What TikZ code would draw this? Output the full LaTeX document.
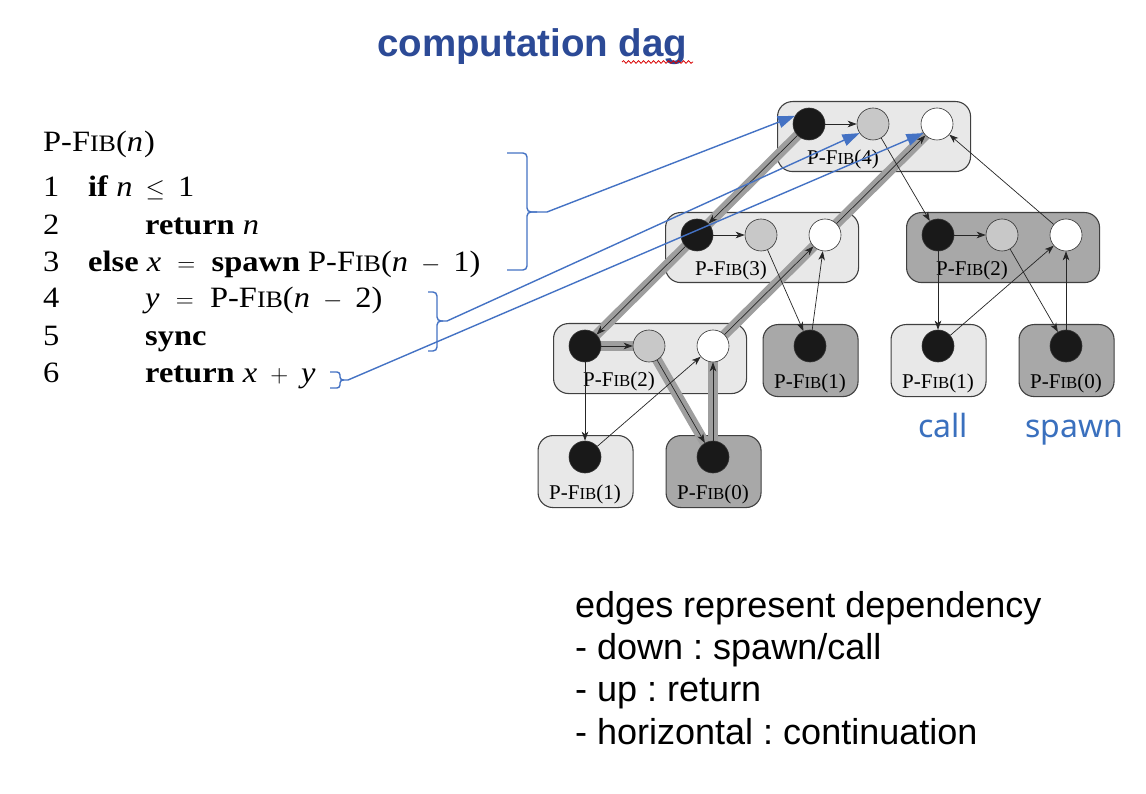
\documentclass[tikz,border=0pt]{standalone}
\usepackage{fontspec}
\setmainfont{Liberation Serif}
\newfontfamily\codefont[FakeStretch=1.1]{Liberation Serif}
\newfontfamily\arialfont{Liberation Sans}
\newfontfamily\notofont{Noto Sans}
\usetikzlibrary{arrows.meta,decorations.pathmorphing}
\frenchspacing

\pgfdeclarelayer{boxes}
\pgfdeclarelayer{bands}
\pgfsetlayers{boxes,bands,main}

\definecolor{lightbox}{RGB}{232,232,232}
\definecolor{darkbox}{RGB}{168,168,168}
\definecolor{midcirc}{RGB}{200,200,200}
\definecolor{band}{RGB}{158,158,158}
\definecolor{bluelink}{RGB}{68,114,196}
\definecolor{titleblue}{RGB}{44,74,150}
\definecolor{noteblue}{RGB}{58,112,190}

% procedure name in small capitals
\newcommand\pfib{P-F\scalebox{0.8}{IB}}

\tikzset{
  frame/.style={draw=black!75, line width=1.1pt, rounded corners=15pt,
    anchor=north west, inner sep=0pt},
  wideframe/.style={frame, minimum width=193pt, minimum height=70pt},
  narrowframe/.style={frame, minimum width=95pt, minimum height=72pt},
  lightfill/.style={fill=lightbox},
  darkfill/.style={fill=darkbox},
  strand/.style={circle, draw=black!80, line width=0.6pt, minimum size=32pt, inner sep=0pt},
  initial/.style={strand, fill=black!90},
  cont/.style={strand, fill=midcirc},
  final/.style={strand, fill=white},
  fiblabel/.style={font=\fontsize{21}{21}\selectfont, inner sep=0pt},
  dep/.style={-{Stealth[length=9pt,width=6.5pt,inset=2.5pt]}, line width=0.7pt, draw=black!85},
  crit/.style={line width=10pt, draw=band},
  code/.style={font=\codefont\fontsize{29.5}{29.5}\selectfont, anchor=base west, inner sep=0pt},
  notes/.style={font=\arialfont\fontsize{36}{36}\selectfont, anchor=base west, inner sep=0pt},
  tag/.style={font=\notofont\fontsize{32}{32}\selectfont, text=noteblue, anchor=base west, inner sep=0pt},
  brace/.style={draw=bluelink, line width=1.4pt, rounded corners=4pt},
  link/.style={draw=bluelink, line width=1.4pt, -{Triangle[length=17pt,width=12pt]}},
}

\begin{document}
\begin{tikzpicture}[x=1pt, y=-1pt]
\useasboundingbox (0,0) rectangle (1146,794);
\begin{pgfonlayer}{boxes}
  \fill[white] (0,0) rectangle (1146,794);
\end{pgfonlayer}

% ---------- title ----------
\node[font=\arialfont\bfseries\fontsize{38.5}{38.5}\selectfont, text=titleblue,
      anchor=base west, inner sep=0pt] (title) at (377,57) {computation dag};
\draw[red!85!black, line width=0.8pt, decorate,
      decoration={snake, amplitude=1.3pt, segment length=5pt}] (622,62) -- (693,62);

% ---------- pseudocode ----------
\node[code] (head) at (43,152) {\pfib(\textit{n}\kern1pt)};
\node[code] (n1) at (43,197) {1};
\node[code] (n2) at (43,235) {2};
\node[code] (n3) at (43,272) {3};
\node[code] (n4) at (43,308) {4};
\node[code] (n5) at (43,345) {5};
\node[code] (n6) at (43,382) {6};
\node[code] (l1) at (88,197) {\textbf{if} \textit{n} \,$\le$\, 1};
\node[code] (l2) at (145,235) {\textbf{return} \textit{n}};
\node[code] (l3) at (88,272) {\textbf{else} \textit{x} \;$=$\; \textbf{spawn} \pfib(\textit{n} \,$-$\, 1)};
\node[code] (l4) at (145,308) {\textit{y} \;$=$\; \pfib(\textit{n} \,$-$\, 2)};
\node[code] (l5) at (145,345) {\textbf{sync}};
\node[code] (l6) at (145,382) {\textbf{return} \textit{x} \,$+$\, \textit{y}};

% ---------- procedure frames ----------
\begin{pgfonlayer}{boxes}
  \node[wideframe, lightfill] (f4)  at (777,101) {};
  \node[wideframe, lightfill] (f3)  at (665,212) {};
  \node[wideframe, darkfill]  (f2r) at (906,212) {};
  \node[wideframe, lightfill] (f2l) at (553,323) {};
  \node[narrowframe, darkfill]  (f1a) at (762.5,324) {};
  \node[narrowframe, lightfill] (f1b) at (890.5,324) {};
  \node[narrowframe, darkfill]  (f0a) at (1018.5,324) {};
  \node[narrowframe, lightfill] (f1c) at (537.5,435) {};
  \node[narrowframe, darkfill]  (f0b) at (665.5,435) {};
\end{pgfonlayer}

% ---------- strands ----------
\node[initial] (b4)  at (809,124) {};
\node[cont]    (g4)  at (873,124) {};
\node[final]   (w4)  at (937,124) {};
\node[initial] (b3)  at (697,235) {};
\node[cont]    (g3)  at (761,235) {};
\node[final]   (w3)  at (825,235) {};
\node[initial] (b2r) at (938,235) {};
\node[cont]    (g2r) at (1002,235) {};
\node[final]   (w2r) at (1066,235) {};
\node[initial] (b2l) at (585,346) {};
\node[cont]    (g2l) at (649,346) {};
\node[final]   (w2l) at (713,346) {};
\node[initial] (s1a) at (810,346) {};
\node[initial] (s1b) at (938,346) {};
\node[initial] (s0a) at (1066,346) {};
\node[initial] (s1c) at (585,457) {};
\node[initial] (s0b) at (713,457) {};

% ---------- frame labels ----------
\node[fiblabel] (t4)  at (843,159) {\pfib(4)};
\node[fiblabel] (t3)  at (731,270) {\pfib(3)};
\node[fiblabel] (t2r) at (972,270) {\pfib(2)};
\node[fiblabel] (t2l) at (619,381) {\pfib(2)};
\node[fiblabel] (t1a) at (810,383) {\pfib(1)};
\node[fiblabel] (t1b) at (938,383) {\pfib(1)};
\node[fiblabel] (t0a) at (1066,383) {\pfib(0)};
\node[fiblabel] (t1c) at (585,494) {\pfib(1)};
\node[fiblabel] (t0b) at (713,494) {\pfib(0)};

% ---------- critical path ----------
\begin{pgfonlayer}{bands}
  \draw[crit] (b4.center)  -- (b3.center);
  \draw[crit] (b3.center)  -- (b2l.center);
  \draw[crit] (b2l.center) -- (g2l.center);
  \draw[crit] (g2l.center) -- (s0b.center);
  \draw[crit] (s0b.center) -- (w2l.center);
  \draw[crit] (w2l.center) -- (w3.center);
  \draw[crit] (w3.center)  -- (w4.center);
\end{pgfonlayer}

% ---------- dependencies ----------
\draw[dep] (b4)  -- (g4);
\draw[dep] (b4)  -- (b3);
\draw[dep] (g4)  -- (b2r);
\draw[dep] (w3)  -- (w4);
\draw[dep] (w2r) -- (w4);
\draw[dep] (b3)  -- (g3);
\draw[dep] (b3)  -- (b2l);
\draw[dep] (g3)  -- (s1a);
\draw[dep] (s1a) -- (w3);
\draw[dep] (w2l) -- (w3);
\draw[dep] (b2r) -- (g2r);
\draw[dep] (b2r) -- (s1b);
\draw[dep] (s1b) -- (w2r);
\draw[dep] (g2r) -- (s0a);
\draw[dep] (s0a) -- (w2r);
\draw[dep] (b2l) -- (g2l);
\draw[dep] (b2l) -- (s1c);
\draw[dep] (s1c) -- (w2l);
\draw[dep] (g2l) -- (s0b);
\draw[dep] (s0b) -- (w2l);

% ---------- edge kinds ----------
\node[tag] (call)  at (918,437)  {call};
\node[tag] (spawn) at (1025,437) {spawn};

% ---------- braces linking code to strands ----------
\draw[brace] (507,153) -- (527,153) -- (527,212) -- (547,212);
\draw[brace] (537,212) -- (527,212) -- (527,270) -- (507,270);
\coordinate (tip1) at (547,212);
\draw[brace] (428,292) -- (437,292) -- (437,321) -- (447,321);
\draw[brace] (443,321) -- (437,321) -- (437,351) -- (428,351);
\coordinate (tip2) at (447,321);
\draw[brace, rounded corners=3pt] (330,372) -- (340,372) -- (340,380) -- (348,380);
\draw[brace, rounded corners=3pt] (344,380) -- (340,380) -- (340,388) -- (330,388);
\coordinate (tip3) at (348,380);

\draw[link] (tip1) -- (b4.150);
\draw[link] (tip2) -- (g4.214);
\draw[link] (tip3) -- (w4.214);

% ---------- notes ----------
\node[notes] (e1) at (575,617) {edges represent dependency};
\node[notes] (e2) at (575,659) {- down : spawn/call};
\node[notes] (e3) at (575,701) {- up : return};
\node[notes] (e4) at (575,744) {- horizontal : continuation};
\end{tikzpicture}
\end{document}
